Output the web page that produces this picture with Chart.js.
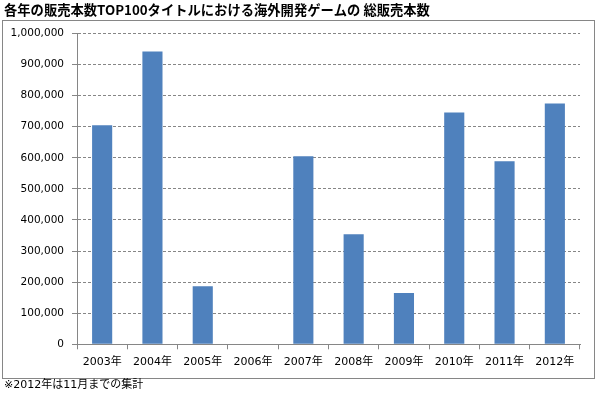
<!DOCTYPE html>
<html><head><meta charset="utf-8">
<script src="https://cdn.jsdelivr.net/npm/chart.js@4/dist/chart.umd.min.js"></script>
<style>html,body{margin:0;padding:0;background:#fff;} canvas{display:block;}</style>
</head><body>
<canvas id="c" width="597" height="394"></canvas>
<script>
const titleText = '各年の販売本数TOP100タイトルにおける海外開発ゲームの 総販売本数';
const footnoteText = '※2012年は11月までの集計';
const categories = ['2003年','2004年','2005年','2006年','2007年','2008年','2009年','2010年','2011年','2012年'];
const salesValues = [705000, 942000, 187000, 0, 605000, 354000, 165000, 746000, 589000, 775000];
const yAxisMin = 0;
const yAxisMax = 1000000;
const yAxisStep = 100000;

const FONT = "'DejaVu Sans', 'Noto Sans CJK JP', sans-serif";
const GRAY = '#868686';

const framePlugin = {
  id: 'frame',
  beforeDraw(chart) {
    const ctx = chart.ctx;
    ctx.save();
    ctx.fillStyle = '#ffffff';
    ctx.fillRect(0, 0, chart.width, chart.height);
    ctx.strokeStyle = GRAY;
    ctx.lineWidth = 1;
    ctx.strokeRect(2.5, 20.5, 592, 358);
    ctx.restore();
  }
};

new Chart(document.getElementById('c'), {
  type: 'bar',
  data: {
    labels: categories,
    datasets: [{
      data: salesValues,
      backgroundColor: '#4F81BD',
      borderWidth: 0,
      barPercentage: 0.4,
      categoryPercentage: 1.0
    }]
  },
  options: {
    responsive: false,
    devicePixelRatio: 1,
    animation: false,
    layout: { padding: { left: 4, right: 17, top: 0, bottom: 0 } },
    plugins: {
      legend: { display: false },
      tooltip: { enabled: false },
      title: {
        display: true,
        text: titleText,
        align: 'start',
        color: '#000',
        font: { family: "'Noto Sans CJK JP', sans-serif", size: 13.3, weight: 'bold', lineHeight: 1.2 },
        padding: { top: 2, bottom: 15.54 }
      },
      subtitle: {
        display: true,
        text: footnoteText,
        position: 'bottom',
        align: 'start',
        color: '#000',
        font: { family: FONT, size: 11, lineHeight: 1.2 },
        padding: { top: 4, bottom: 2.5 }
      }
    },
    scales: {
      x: {
        grid: { display: true, drawOnChartArea: false, drawTicks: true, tickLength: 5, tickColor: GRAY, offset: true },
        border: { display: true, color: GRAY, width: 1 },
        ticks: { color: '#000', font: { family: FONT, size: 11 }, padding: 6, maxRotation: 0, autoSkip: false },
        afterFit(scale) { scale.height = 30; }
      },
      y: {
        min: yAxisMin,
        max: yAxisMax,
        grid: {
          color: (c) => (c.tick && c.tick.value === 0) ? 'rgba(0,0,0,0)' : GRAY,
          tickColor: GRAY,
          tickLength: 5,
          tickBorderDash: [],
          lineWidth: 1
        },
        border: { display: true, color: GRAY, width: 1, dash: [3, 2] },
        ticks: {
          stepSize: yAxisStep,
          color: '#000',
          font: { family: FONT, size: 10.5 },
          padding: 8,
          callback: (v) => Number(v).toLocaleString('en-US')
        },
        afterFit(scale) { scale.width = 73; }
      }
    }
  },
  plugins: [framePlugin]
});
</script>
</body></html>
